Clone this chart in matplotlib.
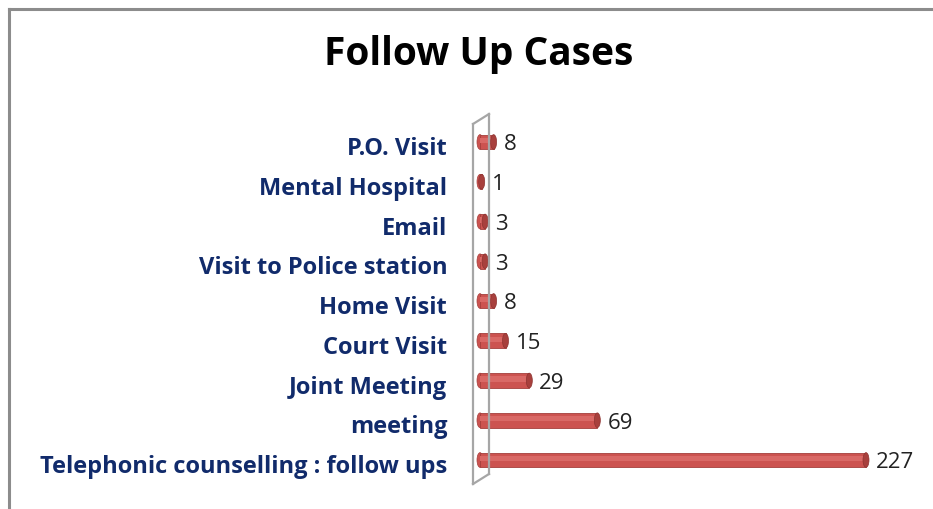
import matplotlib.pyplot as plt
import matplotlib.transforms as mtransforms
from matplotlib.patches import Ellipse
from matplotlib.lines import Line2D

# data, bottom to top
categories = ["Telephonic counselling : follow ups", "meeting", "Joint Meeting",
              "Court Visit", "Home Visit", "Visit to Police station", "Email",
              "Mental Hospital", "P.O. Visit"]
values = [227, 69, 29, 15, 8, 3, 3, 1, 8]

W, H = 933, 510
fig = plt.figure(figsize=(W / 100, H / 100), dpi=100)

# axes placed so that 0 sits at x=480px and the rows run from y=461 to y=143
ax_l, ax_r = 475, 930
ax_t, ax_b = 118, 488
ax = fig.add_axes([ax_l / W, 1 - ax_b / H, (ax_r - ax_l) / W, (ax_b - ax_t) / H])

scale = (866 - 480) / 227.0  # px per unit
ax.set_xlim(-(480 - ax_l) / scale, (ax_r - 480) / scale)
row = (461 - 143) / 8.0
ax.set_ylim(-(ax_b - 461) / row, 8 + (143 - ax_t) / row)

bar_h = 0.37
ys = list(range(len(values)))
ax.barh(ys, values, height=bar_h, color="#CC5350", edgecolor="#A43F3C", linewidth=0.6, zorder=3)
# soft highlight for the cylinder look
ax.barh([y + bar_h * 0.1 for y in ys], values, height=bar_h * 0.35, color="#D96966",
        linewidth=0, zorder=4)

cap_w = 6 / scale
for y, v in zip(ys, values):
    ax.add_patch(Ellipse((v, y), cap_w, bar_h, facecolor="#A8403D", edgecolor="#8E3331",
                         linewidth=0.5, zorder=5))
    ax.add_patch(Ellipse((0, y), cap_w, bar_h, facecolor="#CC5350", edgecolor="#A43F3C",
                         linewidth=0.5, zorder=2))
    ax.text(v + 10 / scale, y - 0.05, str(v), va="center", ha="left", fontsize=16,
            family="Open Sans", color="#222222")

ax.set_yticks(ys)
ax.set_yticklabels(categories, fontsize=17, fontweight="bold", family="Open Sans",
                   color="#112B6B")
ax.tick_params(axis="y", length=0, pad=20)
shift = mtransforms.ScaledTranslation(0, -3 / 100, fig.dpi_scale_trans)
for lab in ax.get_yticklabels():
    lab.set_transform(lab.get_transform() + shift)
ax.set_xticks([])
for s in ax.spines.values():
    s.set_visible(False)

# 3D back wall
def px(x, y):
    return x / W, 1 - y / H

wall = [((473, 125), (473, 485)), ((489, 115), (489, 475)),
        ((473, 125), (489, 115)), ((473, 485), (489, 475))]
for a, b in wall:
    (x0, y0), (x1, y1) = px(*a), px(*b)
    fig.add_artist(Line2D([x0, x1], [y0, y1], color="#A6A6A6", linewidth=1.6, zorder=1))

# chart border
fig.add_artist(Line2D([9 / W, 9 / W], [1 - 10 / H, 0], color="#8C8C8C", linewidth=2.2))
fig.add_artist(Line2D([9 / W, 1], [1 - 10 / H, 1 - 10 / H], color="#8C8C8C", linewidth=2.2))

fig.text(479 / W, 1 - 55 / H, "Follow Up Cases", ha="center", va="center",
         fontsize=28, fontweight="bold", family="Open Sans", color="black")

fig.savefig("out.png", dpi=100)
